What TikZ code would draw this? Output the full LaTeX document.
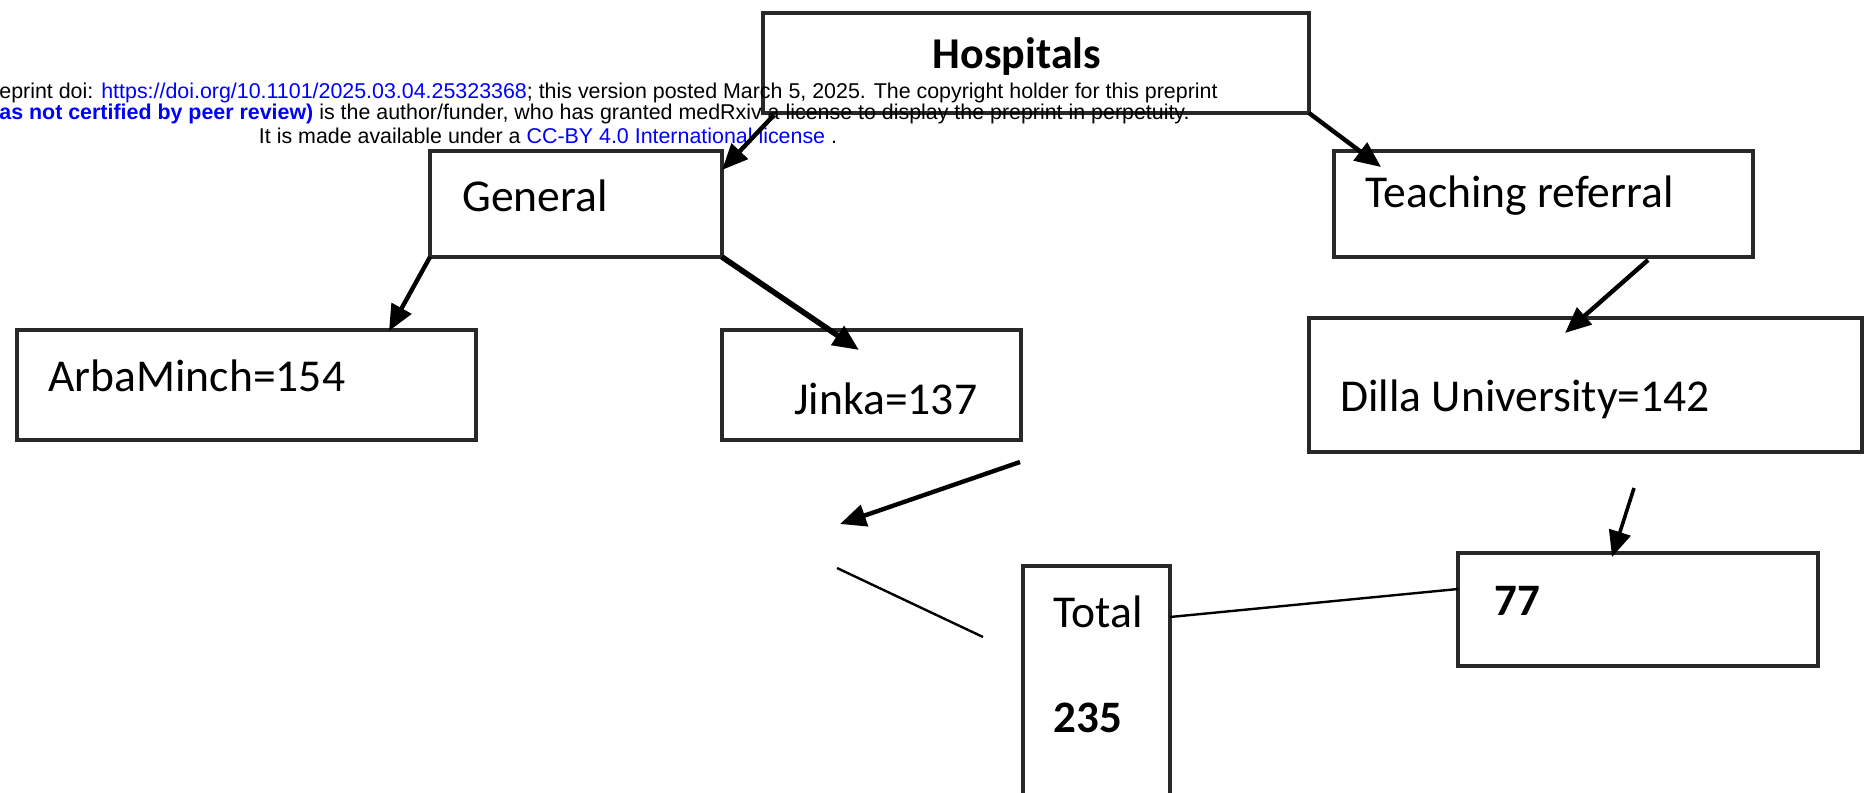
\documentclass[tikz,border=0pt]{standalone}
\usepackage{fontspec}
\setmainfont{Carlito}
\newfontfamily\hdrfont{Liberation Sans}
\usetikzlibrary{arrows.meta}
\definecolor{linkblue}{RGB}{0,0,255}
\definecolor{boxline}{RGB}{40,40,40}
\begin{document}
\begin{tikzpicture}[x=0.5pt,y=-0.5pt,
 box/.style={draw=boxline, line width=1.6pt, inner sep=0pt, outer sep=0pt, anchor=north west},
 lbl/.style={font=\fontsize{22.8}{27}\selectfont, inner sep=0pt, anchor=west},
 boldlbl/.style={font=\fontsize{22.5}{27}\selectfont\bfseries, inner sep=0pt, anchor=west},
 hdr/.style={font=\hdrfont\fontsize{10.7}{12}\selectfont, inner sep=0pt},
 arr/.style={line width=2.2pt, -{Triangle[length=13pt,width=11pt]}},
 thinline/.style={line width=1.2pt}]
\useasboundingbox (0,0) rectangle (1866,792);
\clip (0,0) rectangle (1866,792);
\fill[white] (0,0) rectangle (1866,792);

% boxes
\node[box, minimum width=273pt, minimum height=50pt] (hosp) at (763,13) {};
\node[box, minimum width=146pt, minimum height=53pt] (gen) at (430,151) {};
\node[box, minimum width=209.5pt, minimum height=53pt] (teach) at (1334,151) {};
\node[box, minimum width=229.5pt, minimum height=55pt] (arba) at (17,330) {};
\node[box, minimum width=149.5pt, minimum height=55pt] (jinka) at (722,330) {};
\node[box, minimum width=276.5pt, minimum height=67pt] (dilla) at (1309,318) {};
\node[box, minimum width=73.5pt, minimum height=120pt] (total) at (1023,566) {};
\node[box, minimum width=180pt, minimum height=56.5pt] (seven) at (1458,553) {};

% texts
\node[boldlbl, anchor=center, font=\fontsize{22}{26}\selectfont\bfseries] (thosp) at (1017,57) {Hospitals};
\node[lbl] (tgen) at (462,196) {General};
\node[lbl] (tteach) at (1365,196) {Teaching referral};
\node[lbl] (tarba) at (48,376) {ArbaMinch=154};
\node[lbl] (tjinka) at (794,399) {Jinka=137};
\node[lbl] (tdilla) at (1340,399) {Dilla University=142};
\node[lbl] (ttotal) at (1053,612) {Total};
\node[boldlbl] (tnum) at (1053,718) {235};
\node[boldlbl] (tseven) at (1494,601) {77};

% header
\node[hdr, anchor=west] (h1) at (-1,93) {eprint doi: \textcolor{linkblue}{https://doi.org/10.1101/2025.03.04.25323368}; this version posted March 5, 2025. The copyright holder for this preprint};
\node[hdr, anchor=west] (h2) at (-1,114) {\textcolor{linkblue}{\bfseries as not certified by peer review)} is the author/funder, who has granted medRxiv a license to display the preprint in perpetuity.};
\node[hdr, anchor=center] (h3) at (548,136) {It is made available under a \textcolor{linkblue}{CC-BY 4.0 International license} .};

% free ends
\coordinate (jfree) at (840,524);
\coordinate (la) at (837,568);
\coordinate (lb) at (983,637);

% connectors
\draw[arr] ([shift={(11,2)}]hosp.south west) -- ([shift={(0,19)}]gen.north east);
\draw[arr] (hosp.south east) -- ([shift={(47,16)}]teach.north west);
\draw[arr] (gen.south west) -- ([shift={(-87,1)}]arba.north east);
\draw[arr, line width=2.8pt] (gen.south east) -- ([shift={(137,20)}]jinka.north west);
\draw[arr] ([shift={(314,3)}]teach.south west) -- ([shift={(256,15)}]dilla.north west);
\draw[arr] ([shift={(-1,22)}]jinka.south east) -- (jfree);
\draw[thinline] (la) -- (lb);
\draw[arr, line width=1.8pt] ([shift={(325,36)}]dilla.south west) -- ([shift={(154,4)}]seven.north west);
\draw[thinline] ([shift={(0,51)}]total.north east) -- ([shift={(0,36)}]seven.north west);
\end{tikzpicture}
\end{document}
